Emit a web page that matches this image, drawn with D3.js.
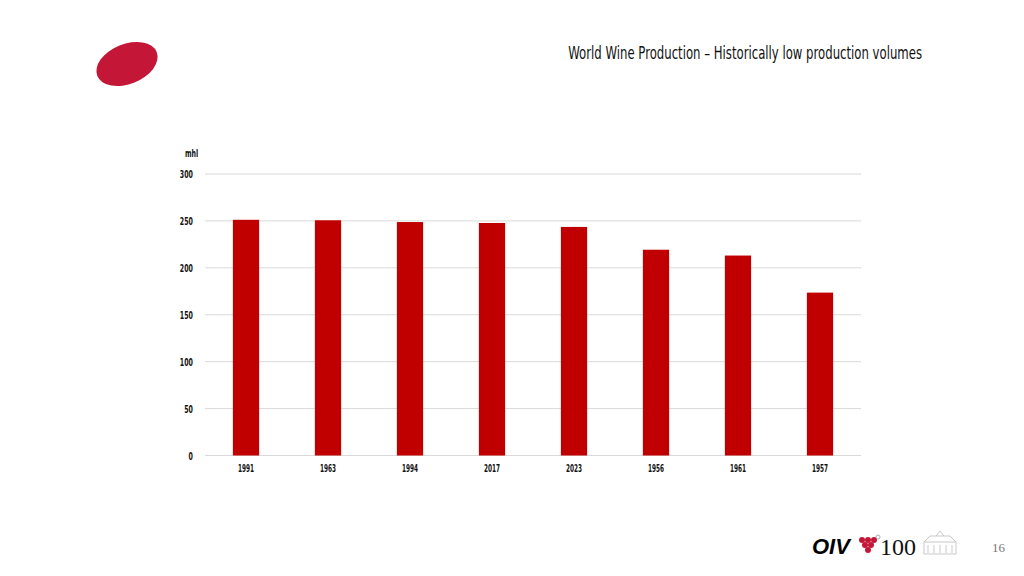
<!DOCTYPE html>
<html><head><meta charset="utf-8">
<script src="https://cdn.jsdelivr.net/npm/d3@7"></script>
<style>
html,body{margin:0;padding:0;background:#fff;}
svg{display:block;}
</style></head>
<body>
<script>
const categories = ["1991","1963","1994","2017","2023","1956","1961","1957"];
const values = [251.2, 250.7, 248.8, 247.8, 243.6, 219.3, 213.1, 173.6];
const yTicks = [0, 50, 100, 150, 200, 250, 300];
const title = "World Wine Production \u2013 Historically low production volumes";
const unitLabel = "mhl";
const pageNumber = "16";

const W = 1024, H = 576;
const svg = d3.select("body").append("svg").attr("width", W).attr("height", H);
const cond = "'DejaVu Sans','Liberation Sans',sans-serif";

// logo ellipse
svg.append("ellipse").attr("cx",127).attr("cy",64).attr("rx",32).attr("ry",20)
  .attr("transform","rotate(-22,127,64)").attr("fill","#c41737");

// title (condensed look via horizontal scaling)
const tEl = svg.append("text").attr("text-anchor","end")
  .attr("transform","translate(922,59) scale(1,1)")
  .attr("font-family",cond).attr("font-size",17.5).attr("fill","#111")
  .text(title);
const tw = tEl.node().getComputedTextLength();
tEl.attr("transform",`translate(922,59) scale(${354/tw},1)`);

const x = d3.scaleBand().domain(categories).range([205,861]).paddingInner(0.68).paddingOuter(0.34);
const y = d3.scaleLinear().domain([0,300]).range([455.5,174]);

// gridlines
svg.append("g").selectAll("line").data(yTicks).join("line")
  .attr("x1",205).attr("x2",861).attr("y1",d=>y(d)).attr("y2",d=>y(d))
  .attr("stroke","#d9d9d9").attr("stroke-width",1);

// y labels
const yAxis = d3.axisLeft(y).tickValues(yTicks).tickSize(0).tickPadding(0);
const yg = svg.append("g").attr("transform","translate(193,0)").call(yAxis);
yg.select(".domain").remove();
yg.selectAll("text").attr("font-family",cond).attr("font-size",10.5).attr("font-weight","bold")
  .attr("fill","#111").attr("dy","0.35em").attr("transform","scale(0.6,1)");

// unit label
svg.append("text").attr("transform","translate(185,157) scale(0.6,1)").attr("font-family",cond).attr("font-size",10.5)
  .attr("font-weight","bold").attr("fill","#111").text(unitLabel);

// bars
svg.append("g").selectAll("rect").data(values).join("rect")
  .attr("x",(d,i)=>x(categories[i])).attr("width",x.bandwidth())
  .attr("y",d=>y(d)).attr("height",d=>y(0)-y(d)).attr("fill","#c00000");

// x labels
const xAxis = d3.axisBottom(x).tickSize(0).tickPadding(0);
const xg = svg.append("g").attr("transform","translate(0,465)").call(xAxis);
xg.select(".domain").remove();
xg.selectAll("text").attr("font-family",cond).attr("font-size",10.5).attr("font-weight","bold")
  .attr("fill","#111").attr("transform","scale(0.55,1)");

// footer
svg.append("text").attr("x",812).attr("y",554).attr("font-family","'Liberation Sans',Arial,sans-serif")
  .attr("font-size",22).attr("font-weight","bold").attr("font-style","italic").attr("fill","#000").text("OIV");
const grapes = [[862,540],[868,540],[874,540],[865,545],[871,545],[868,550]];
svg.append("g").selectAll("circle").data(grapes).join("circle")
  .attr("cx",d=>d[0]).attr("cy",d=>d[1]).attr("r",3).attr("fill","#c41737");
svg.append("circle").attr("cx",878).attr("cy",537).attr("r",2).attr("fill","none").attr("stroke","#999").attr("stroke-width",0.8);
svg.append("text").attr("x",880).attr("y",555).attr("font-family","'Liberation Serif','DejaVu Serif',serif")
  .attr("font-size",24).attr("fill","#111").text("100");
// building sketch
const bg = svg.append("g").attr("stroke","#bbb").attr("stroke-width",0.8).attr("fill","none");
bg.append("rect").attr("x",924).attr("y",542).attr("width",32).attr("height",12);
bg.append("path").attr("d","M924,542 L930,536 L950,536 L956,542 M936,536 L940,531 L944,536");
[928,934,940,946,952].forEach(px=>bg.append("line").attr("x1",px).attr("x2",px).attr("y1",545).attr("y2",553));
svg.append("text").attr("x",1005).attr("y",552).attr("text-anchor","end")
  .attr("font-family","'Liberation Serif','DejaVu Serif',serif").attr("font-size",13).attr("fill","#777").text(pageNumber);
</script>
</body></html>
